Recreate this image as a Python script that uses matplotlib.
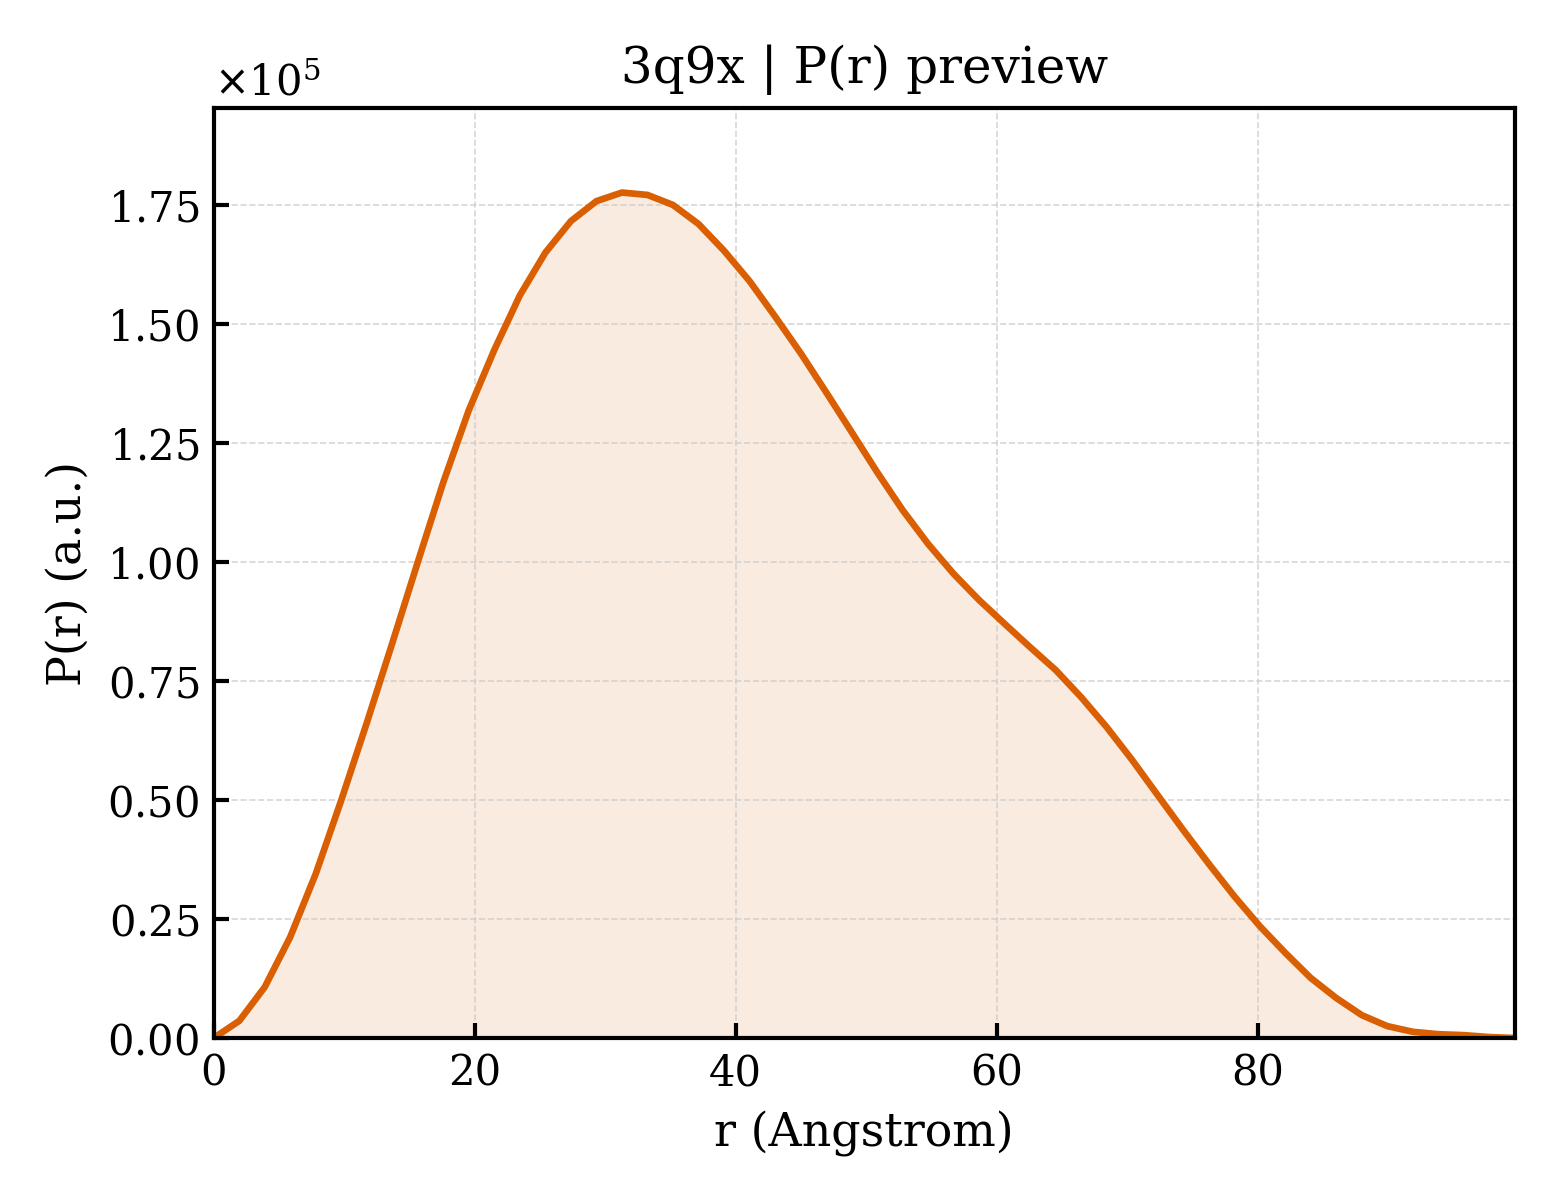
import numpy as np
import matplotlib
matplotlib.use("Agg")
import matplotlib.pyplot as plt

# P(r) (r in Angstrom, P in units of 1e5)
r = [0.00, 1.96, 3.91, 5.86, 7.82, 9.78, 11.73, 13.69, 15.64, 17.60,
     19.55, 21.51, 23.46, 25.42, 27.37, 29.33, 31.28, 33.24, 35.19, 37.15,
     39.10, 41.06, 43.01, 44.97, 46.92, 48.88, 50.83, 52.79, 54.74, 56.70,
     58.65, 60.61, 62.56, 64.52, 66.47, 68.43, 70.38, 72.34, 74.29, 76.25,
     78.20, 80.16, 82.11, 84.07, 86.02, 87.98, 89.93, 91.89, 93.84, 95.80,
     97.75, 99.70]
pr = [0.000, 0.036, 0.107, 0.212, 0.345, 0.500, 0.662, 0.830, 1.000, 1.168,
      1.319, 1.446, 1.560, 1.650, 1.716, 1.758, 1.776, 1.771, 1.750, 1.710,
      1.654, 1.590, 1.516, 1.439, 1.357, 1.273, 1.189, 1.109, 1.038, 0.975,
      0.920, 0.870, 0.821, 0.773, 0.716, 0.653, 0.584, 0.510, 0.437, 0.366,
      0.298, 0.235, 0.179, 0.126, 0.084, 0.048, 0.025, 0.013, 0.008, 0.006,
      0.002, 0.000]

r = np.array(r)
pr = np.array(pr) * 1e5

plt.rcParams['font.family'] = 'serif'
plt.rcParams['font.serif'] = ['DejaVu Serif']

fig, ax = plt.subplots(figsize=(5.2, 4.0), dpi=300)
fig.subplots_adjust(left=0.137, right=0.971, top=0.91, bottom=0.135)

ax.plot(r, pr, color='#d95f02', lw=1.6)
ax.fill_between(r, pr, 0, color='#d95f02', alpha=0.12, lw=0)

ax.set_xlim(r[0], r[-1])
ax.set_ylim(0, pr.max() * 1.1)
ax.set_xticks([0, 20, 40, 60, 80])
ax.set_yticks(np.arange(0, 1.76e5, 0.25e5))
ax.ticklabel_format(axis='y', style='sci', scilimits=(0, 0), useMathText=True)
ax.tick_params(direction='in', labelsize=10, width=1.0)
for s in ax.spines.values():
    s.set_linewidth(1.0)
ax.grid(True, ls='--', lw=0.4, color='#cccccc', alpha=0.8)

ax.set_xlabel('r (Angstrom)', fontsize=11)
ax.set_ylabel('P(r) (a.u.)', fontsize=11)
ax.set_title('3q9x | P(r) preview', fontsize=12)

plt.savefig('out.png', dpi=300)
